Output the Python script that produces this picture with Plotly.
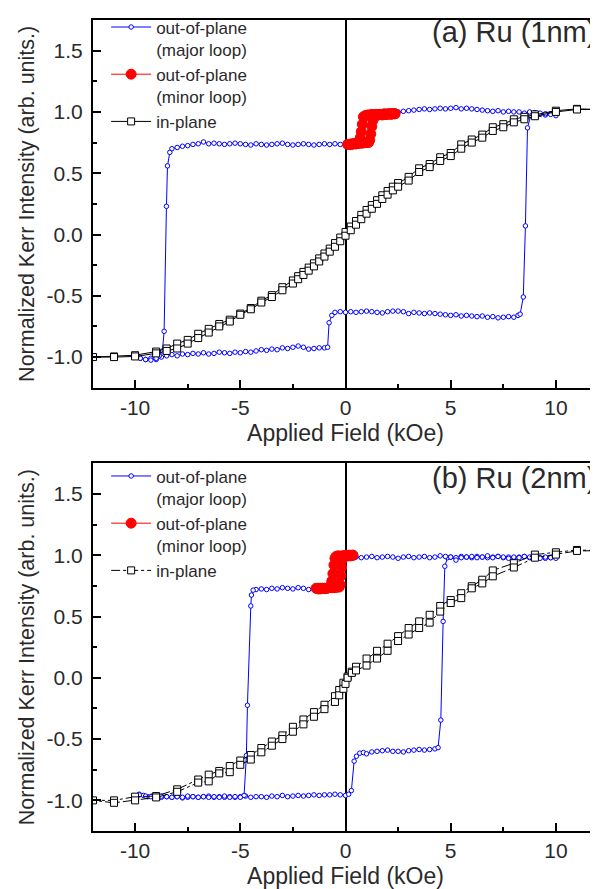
import plotly.graph_objects as go

# ---------------- panel (a) Ru (1nm) ----------------
# out-of-plane major loop: ascending branch then descending branch
a_major_field = [
    -10.0, -9.75, -9.5, -9.25, -9.0, -8.75, -8.5, -8.25, -8.0, -7.75, -7.5, -7.25, -7.0, -6.75,
    -6.5, -6.25, -6.0, -5.75, -5.5, -5.25, -5.0, -4.75, -4.5, -4.25, -4.0, -3.75, -3.5, -3.25,
    -3.0, -2.75, -2.5, -2.25, -2.0, -1.75, -1.5, -1.25, -1.0, -0.85, -0.78, -0.65, -0.5, -0.25,
    0.0, 0.25, 0.5, 0.75, 1.0, 1.25, 1.5, 1.75, 2.0, 2.25, 2.5, 2.75, 3.0, 3.25, 3.5, 3.75,
    4.0, 4.25, 4.5, 4.75, 5.0, 5.25, 5.5, 5.75, 6.0, 6.25, 6.5, 6.75, 7.0, 7.25, 7.5, 7.75,
    8.0, 8.2, 8.3, 8.45, 8.55, 8.65, 8.8, 9.0, 9.25, 9.5, 9.75, 10.0,
    9.75, 9.5, 9.25, 9.0, 8.75, 8.5, 8.25, 8.0, 7.75, 7.5, 7.25, 7.0, 6.75, 6.5, 6.25, 6.0,
    5.75, 5.5, 5.25, 5.0, 4.75, 4.5, 4.25, 4.0, 3.75, 3.5, 3.25, 3.0, 2.75, 2.5, 2.25, 2.0,
    1.75, 1.5, 1.25, 1.0, 0.8, 0.7, 0.6, 0.5, 0.25, 0.0, -0.25, -0.5, -0.75, -1.0, -1.25,
    -1.5, -1.75, -2.0, -2.25, -2.5, -2.75, -3.0, -3.25, -3.5, -3.75, -4.0, -4.25, -4.5, -4.75,
    -5.0, -5.25, -5.5, -5.75, -6.0, -6.25, -6.5, -6.75, -7.0, -7.25, -7.5, -7.75, -8.0, -8.25,
    -8.35, -8.46, -8.51, -8.62, -8.7, -8.85, -9.0, -9.25, -9.5, -9.75, -10.0,
]
a_major_kerr = [
    -1.0, -1.01, -1.02, -1.01, -1.02, -1.0, -0.99, -0.98, -0.99, -0.975, -0.98, -0.97, -0.975, -0.965,
    -0.975, -0.97, -0.96, -0.965, -0.97, -0.96, -0.965, -0.955, -0.96, -0.95, -0.94, -0.945, -0.935, -0.94,
    -0.925, -0.93, -0.92, -0.91, -0.92, -0.935, -0.93, -0.925, -0.925, -0.92, -0.72, -0.66, -0.635, -0.63,
    -0.635, -0.63, -0.635, -0.63, -0.625, -0.63, -0.635, -0.64, -0.63, -0.625, -0.625, -0.63, -0.645, -0.635, -0.64, -0.645,
    -0.64, -0.645, -0.65, -0.655, -0.66, -0.655, -0.665, -0.66, -0.665, -0.67, -0.665, -0.675, -0.67, -0.68, -0.675, -0.67,
    -0.675, -0.66, -0.65, -0.51, 0.07, 0.87, 0.97, 0.99, 0.98, 0.975, 0.985, 0.97,
    0.98, 0.985, 0.99, 0.995, 1.0, 0.99, 1.0, 1.0, 1.005, 1.0, 1.01, 1.005, 1.01, 1.015, 1.02, 1.025,
    1.03, 1.025, 1.035, 1.03, 1.025, 1.03, 1.025, 1.02, 1.025, 1.02, 1.015, 1.01, 1.005, 1.0, 0.995, 0.99,
    0.985, 0.99, 0.985, 0.98, 0.96, 0.80, 0.75, 0.74, 0.735, 0.73, 0.735, 0.74, 0.735, 0.74, 0.735,
    0.73, 0.735, 0.74, 0.735, 0.73, 0.735, 0.745, 0.74, 0.735, 0.73, 0.735, 0.74, 0.73, 0.735,
    0.74, 0.745, 0.74, 0.735, 0.74, 0.745, 0.74, 0.755, 0.74, 0.735, 0.725, 0.72, 0.71, 0.70,
    0.67, 0.56, 0.23, -0.79, -0.95, -0.99, -1.01, -1.025, -1.02, -1.01, -1.0,
]

# out-of-plane minor loop: descending then ascending
a_minor_field = [
    2.35, 2.25, 2.15, 2.05, 1.95, 1.85, 1.75, 1.65, 1.55, 1.45, 1.35, 1.25, 1.15, 1.05, 0.95,
    0.85, 0.8, 0.75, 0.7, 0.65, 0.6, 0.5, 0.4, 0.3, 0.2, 0.1,
    0.2, 0.3, 0.4, 0.5, 0.6, 0.7, 0.8, 0.9, 1.0, 1.1, 1.15, 1.2, 1.25, 1.3, 1.35, 1.45,
    1.55, 1.65, 1.75, 1.85, 1.95, 2.05, 2.15, 2.25, 2.35,
]
a_minor_kerr = [
    0.985, 0.985, 0.98, 0.985, 0.98, 0.98, 0.975, 0.98, 0.975, 0.98, 0.975, 0.98, 0.975, 0.975, 0.97,
    0.96, 0.90, 0.84, 0.79, 0.76, 0.745, 0.74, 0.74, 0.735, 0.735, 0.735,
    0.735, 0.74, 0.74, 0.74, 0.745, 0.745, 0.745, 0.75, 0.75, 0.75, 0.77, 0.82, 0.88, 0.93, 0.96, 0.975,
    0.975, 0.98, 0.98, 0.985, 0.98, 0.985, 0.985, 0.985, 0.985,
]

# in-plane loop: descending branch then ascending branch
a_inplane_field = [
    12, 11, 10, 9, 8.5, 8, 7.5, 7, 6.5, 6, 5.5, 5, 4.5, 4, 3.5, 3, 2.5, 2.25, 2.0, 1.75,
    1.5, 1.25, 1.0, 0.75, 0.5, 0.25, 0.0, -0.25, -0.5, -0.75, -1.0, -1.25, -1.5, -1.75, -2.0,
    -2.25, -2.5, -3, -3.5, -4, -4.5, -5, -5.5, -6, -6.5, -7, -7.5, -8, -8.5, -9, -10, -11, -12,
    -11, -10, -9, -8.5, -8, -7.5, -7, -6.5, -6, -5.5, -5, -4.5, -4, -3.5, -3, -2.5, -2.25,
    -2.0, -1.75, -1.5, -1.25, -1.0, -0.75, -0.5, -0.25, 0.0, 0.25, 0.5, 0.75, 1.0, 1.25, 1.5,
    1.75, 2.0, 2.25, 2.5, 3, 3.5, 4, 4.5, 5, 5.5, 6, 6.5, 7, 7.5, 8, 8.5, 9, 10, 11, 12,
]
a_inplane_kerr = [
    1.02, 1.025, 1.01, 0.98, 0.96, 0.94, 0.90, 0.875, 0.815, 0.775, 0.735, 0.665, 0.63, 0.575, 0.54, 0.47, 0.42, 0.39, 0.355, 0.32,
    0.28, 0.24, 0.20, 0.16, 0.11, 0.065, 0.02, -0.025, -0.07, -0.115, -0.155, -0.195, -0.235, -0.27, -0.305,
    -0.34, -0.375, -0.43, -0.495, -0.54, -0.60, -0.645, -0.695, -0.73, -0.77, -0.81, -0.86, -0.89, -0.93, -0.955, -0.985, -0.995, -1.0,
    -1.0, -0.995, -0.97, -0.95, -0.93, -0.89, -0.845, -0.80, -0.75, -0.71, -0.655, -0.61, -0.555, -0.51, -0.455, -0.40, -0.365,
    -0.33, -0.295, -0.26, -0.22, -0.18, -0.14, -0.10, -0.055, -0.01, 0.035, 0.08, 0.125, 0.17, 0.21, 0.25,
    0.29, 0.325, 0.36, 0.39, 0.44, 0.51, 0.55, 0.60, 0.64, 0.70, 0.75, 0.79, 0.845, 0.875, 0.915, 0.94, 0.965, 1.0, 1.02, 1.02,
]

# ---------------- panel (b) Ru (2nm) ----------------
b_major_field = [
    -9.8, -9.6, -9.4, -9.2, -9.0, -8.75, -8.5, -8.25, -8.0, -7.75, -7.5, -7.25, -7.0, -6.75,
    -6.5, -6.25, -6.0, -5.75, -5.5, -5.25, -5.0, -4.75, -4.5, -4.25, -4.0, -3.75, -3.5, -3.25,
    -3.0, -2.75, -2.5, -2.25, -2.0, -1.75, -1.5, -1.25, -1.0, -0.75, -0.5, -0.25, 0.0, 0.15,
    0.28, 0.41, 0.52, 0.68, 0.85, 1.0, 1.25, 1.5, 1.75, 2.0, 2.25, 2.5, 2.75, 3.0, 3.25, 3.5,
    3.75, 4.0, 4.25, 4.4, 4.53, 4.64, 4.72, 4.85, 5.0, 5.25, 5.5, 5.75, 6.0, 6.25, 6.5, 6.75,
    7.0, 7.25, 7.5, 7.75, 8.0, 8.25, 8.5, 8.75, 9.0, 9.25, 9.5, 9.75, 10.0,
    9.75, 9.5, 9.25, 9.0, 8.75, 8.5, 8.25, 8.0, 7.75, 7.5, 7.25, 7.0, 6.75, 6.5, 6.25, 6.0,
    5.75, 5.5, 5.25, 5.0, 4.75, 4.5, 4.25, 4.0, 3.75, 3.5, 3.25, 3.0, 2.75, 2.5, 2.25, 2.0,
    1.75, 1.5, 1.25, 1.0, 0.75, 0.5, 0.25, 0.0, -0.1, -0.2, -0.3, -0.35, -0.4, -0.5, -0.75,
    -1.0, -1.25, -1.5, -1.75, -2.0, -2.25, -2.5, -2.75, -3.0, -3.25, -3.5, -3.75, -4.0, -4.25,
    -4.39, -4.47, -4.5, -4.66, -4.71, -4.82, -5.0, -5.25, -5.5, -5.75, -6.0, -6.25, -6.5, -6.75,
    -7.0, -7.25, -7.5, -7.75, -8.0, -8.25, -8.5, -8.75, -9.0, -9.25, -9.5, -9.8,
]
b_major_kerr = [
    -0.95, -0.96, -0.97, -0.965, -0.97, -0.975, -0.97, -0.975, -0.97, -0.98, -0.975, -0.97, -0.975, -0.97,
    -0.965, -0.975, -0.97, -0.975, -0.97, -0.975, -0.97, -0.965, -0.975, -0.97, -0.97, -0.975, -0.965, -0.97,
    -0.96, -0.97, -0.965, -0.96, -0.965, -0.96, -0.955, -0.96, -0.955, -0.955, -0.95, -0.955, -0.96, -0.95,
    -0.92, -0.68, -0.64, -0.615, -0.61, -0.62, -0.605, -0.60, -0.595, -0.59, -0.60, -0.60, -0.605, -0.595, -0.59, -0.585,
    -0.59, -0.585, -0.58, -0.57, -0.345, 0.46, 0.91, 0.98, 0.985, 0.98, 0.99, 0.985, 0.98, 0.99, 0.985, 0.98,
    0.985, 0.99, 0.98, 0.985, 0.98, 0.985, 0.99, 0.98, 0.985, 0.98, 0.975, 0.98, 0.975,
    0.98, 0.985, 0.975, 0.98, 0.985, 0.99, 0.98, 0.985, 0.975, 0.985, 0.99, 0.98, 0.995, 0.985, 0.98, 0.99,
    0.985, 0.98, 0.96, 0.985, 0.99, 0.995, 0.985, 0.98, 0.99, 0.985, 0.98, 0.99, 0.985, 0.975, 0.985, 0.99,
    0.985, 0.98, 0.99, 0.985, 0.98, 0.985, 0.99, 0.985, 0.985, 0.975, 0.93, 0.85, 0.77, 0.735, 0.73,
    0.725, 0.735, 0.73, 0.72, 0.73, 0.735, 0.725, 0.73, 0.735, 0.725, 0.73, 0.72, 0.725, 0.72,
    0.715, 0.675, 0.586, -0.224, -0.635, -0.96, -0.975, -0.97, -0.975, -0.965, -0.975, -0.97, -0.975, -0.97,
    -0.975, -0.97, -0.965, -0.975, -0.97, -0.975, -0.97, -0.965, -0.96, -0.97, -0.965, -0.955,
]

b_minor_field = [
    0.35, 0.25, 0.15, 0.05, -0.05, -0.15, -0.25, -0.35, -0.45, -0.5, -0.55, -0.6, -0.65, -0.7,
    -0.8, -0.9, -1.0, -1.1, -1.2, -1.3, -1.4,
    -1.3, -1.2, -1.1, -1.0, -0.9, -0.8, -0.7, -0.6, -0.5, -0.4, -0.3, -0.25, -0.22, -0.19, -0.16,
    -0.12, -0.05, 0.05, 0.15, 0.25, 0.35,
]
b_minor_kerr = [
    1.0, 0.995, 1.0, 0.995, 0.995, 0.995, 0.99, 0.995, 0.99, 0.975, 0.92, 0.85, 0.79, 0.75,
    0.735, 0.73, 0.73, 0.73, 0.725, 0.73, 0.73,
    0.725, 0.73, 0.73, 0.73, 0.73, 0.735, 0.735, 0.735, 0.735, 0.74, 0.74, 0.76, 0.83, 0.90, 0.96,
    0.99, 0.995, 1.0, 0.995, 1.0, 1.0,
]

b_inplane_field = [
    12, 11, 10, 9, 8, 7, 6.5, 6, 5.5, 5, 4.5, 4, 3.5, 3, 2.5, 2, 1.5, 1.0, 0.5, 0.3, 0.1,
    -0.1, -0.3, -0.5, -1.0, -1.5, -2, -2.5, -3, -3.5, -4, -4.5, -5, -5.5, -6, -6.5, -7, -8,
    -9, -10, -11, -12,
    -11, -10, -9, -8, -7, -6.5, -6, -5.5, -5, -4.5, -4, -3.5, -3, -2.5, -2, -1.5, -1.0, -0.5,
    -0.3, -0.1, 0.0, 0.1, 0.3, 0.5, 1.0, 1.5, 2, 2.5, 3, 3.5, 4, 4.5, 5, 5.5, 6, 6.5, 7, 8,
    9, 10, 11, 12,
]
b_inplane_kerr = [
    1.037, 1.043, 1.024, 1.005, 0.935, 0.876, 0.80, 0.747, 0.69, 0.634, 0.586, 0.514, 0.46, 0.406, 0.34, 0.278, 0.22, 0.157, 0.09, 0.05, 0.01,
    -0.04, -0.10, -0.15, -0.22, -0.28, -0.34, -0.40, -0.47, -0.52, -0.573, -0.63, -0.675, -0.72, -0.76, -0.79, -0.83, -0.91,
    -0.965, -0.97, -1.0, -1.0,
    -1.02, -1.0, -0.976, -0.93, -0.855, -0.845, -0.78, -0.77, -0.71, -0.667, -0.608, -0.554, -0.50, -0.44, -0.38, -0.318, -0.256, -0.197,
    -0.143, -0.09, -0.05, 0.0, 0.04, 0.06, 0.10, 0.157, 0.22, 0.30, 0.353, 0.406, 0.45, 0.54, 0.61, 0.65, 0.73, 0.77, 0.828, 0.90,
    0.98, 1.005, 1.035, 1.037,
]

x_ticks = [-10, -5, 0, 5, 10]
x_ticktext = ["-10", "-5", "0", "5", "10"]
y_ticks = [-1.0, -0.5, 0.0, 0.5, 1.0, 1.5]
y_ticktext = ["-1.0", "-0.5", "0.0", "0.5", "1.0", "1.5"]

FONT = "Liberation Sans, Arial, sans-serif"
TXT = "#2a2a2a"

fig = go.Figure()

panels = [
    ("x", "y", "legend", a_major_field, a_major_kerr, a_minor_field, a_minor_kerr,
     a_inplane_field, a_inplane_kerr, "solid"),
    ("x2", "y2", "legend2", b_major_field, b_major_kerr, b_minor_field, b_minor_kerr,
     b_inplane_field, b_inplane_kerr, "dashdot"),
]
for xa, ya, leg, mf, mk, nf, nk, pf, pk, dash in panels:
    fig.add_trace(go.Scatter(
        x=mf, y=mk, xaxis=xa, yaxis=ya, legend=leg, mode="lines+markers",
        name="out-of-plane<br>(major loop)",
        line=dict(color="#0000ff", width=1),
        marker=dict(symbol="circle", size=4.5, color="white", line=dict(color="#0000ff", width=1)),
    ))
    fig.add_trace(go.Scatter(
        x=nf, y=nk, xaxis=xa, yaxis=ya, legend=leg, mode="lines+markers",
        name="out-of-plane<br>(minor loop)",
        line=dict(color="#ff0000", width=1),
        marker=dict(symbol="circle", size=10, color="#ff0000", line=dict(color="#ff0000", width=1)),
    ))
    fig.add_trace(go.Scatter(
        x=pf, y=pk, xaxis=xa, yaxis=ya, legend=leg, mode="lines+markers",
        name="in-plane",
        line=dict(color="black", width=1, dash=dash),
        marker=dict(symbol="square", size=7, color="white", line=dict(color="black", width=1)),
    ))

xaxis_style = dict(
    range=[-12, 12], tickmode="array", tickvals=x_ticks, ticktext=x_ticktext,
    ticks="inside", ticklen=8, tickwidth=1.5, tickcolor="black",
    minor=dict(tickmode="array", tickvals=[-7.5, -2.5, 2.5, 7.5], ticks="inside",
               ticklen=4, tickwidth=1.5, tickcolor="black"),
    showline=True, linecolor="black", linewidth=2, mirror=True,
    zeroline=True, zerolinecolor="black", zerolinewidth=2, showgrid=False,
    tickfont=dict(size=21, color=TXT, family=FONT),
    title=dict(text="Applied Field (kOe)", font=dict(size=23, color=TXT, family=FONT), standoff=7),
)
yaxis_style = dict(
    range=[-1.25, 1.75], tickmode="array", tickvals=y_ticks, ticktext=y_ticktext,
    ticks="inside", ticklen=8, tickwidth=1.5, tickcolor="black",
    minor=dict(tickmode="array", tickvals=[-0.75, -0.25, 0.25, 0.75, 1.25], ticks="inside",
               ticklen=4, tickwidth=1.5, tickcolor="black"),
    showline=True, linecolor="black", linewidth=2, mirror=False,
    zeroline=False, showgrid=False, ticklabelstandoff=4,
    tickfont=dict(size=21, color=TXT, family=FONT),
    title=dict(text="Normalized Kerr Intensity (arb. units.)",
               font=dict(size=21.5, color=TXT, family=FONT), standoff=6),
)

legend_style = dict(
    font=dict(size=17, color=TXT, family=FONT), bgcolor="rgba(0,0,0,0)",
    borderwidth=0, xanchor="left", yanchor="top", valign="top",
    tracegroupgap=0, itemwidth=40,
)

# the page body adds an 8px offset, so the margins are shifted to compensate
fig.update_layout(
    width=598, height=889,
    margin=dict(l=85, r=8, t=1, b=66),
    paper_bgcolor="white", plot_bgcolor="white",
    font=dict(family=FONT, color=TXT),
    showlegend=True,
    xaxis=dict(domain=[0, 1], anchor="y", **xaxis_style),
    yaxis=dict(domain=[0.5466, 1.0], anchor="x", **yaxis_style),
    xaxis2=dict(domain=[0, 1], anchor="y2", **xaxis_style),
    yaxis2=dict(domain=[0.0, 0.4534], anchor="x2", **yaxis_style),
    legend=dict(x=0.026, y=1.013, **legend_style),
    legend2=dict(x=0.026, y=0.4594, **legend_style),
    annotations=[
        dict(text="(a) Ru (1nm)", xref="paper", yref="paper", x=1.0, y=1.008,
             xanchor="right", yanchor="top", showarrow=False,
             font=dict(size=29, color=TXT, family=FONT)),
        dict(text="(b) Ru (2nm)", xref="paper", yref="paper", x=1.0, y=0.4572,
             xanchor="right", yanchor="top", showarrow=False,
             font=dict(size=29, color=TXT, family=FONT)),
    ],
)

fig.write_html("out.html")
